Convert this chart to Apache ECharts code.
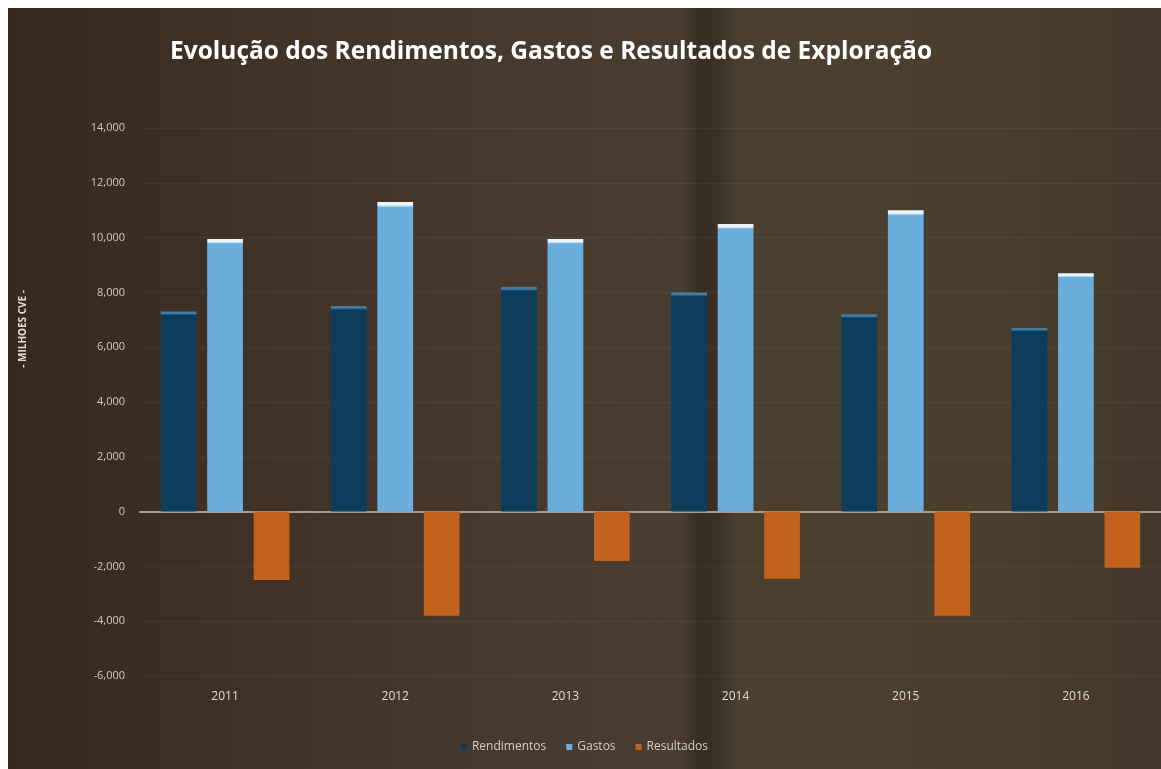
<!DOCTYPE html>
<html>
<head>
<meta charset="utf-8">
<script src="https://cdn.jsdelivr.net/npm/echarts@6/dist/echarts.min.js"></script>
<style>
  html, body { margin: 0; padding: 0; background: #ffffff; overflow: hidden; }
  #chart { position: absolute; left: 8px; top: 8px; width: 1153px; height: 761px; }
</style>
</head>
<body>
<div id="chart"></div>
<script>
  // anos e valores (milhoes CVE)
  const anos = ["2011", "2012", "2013", "2014", "2015", "2016"];
  const rendimentos = [7300, 7500, 8200, 8000, 7200, 6700];
  const gastos = [9950, 11300, 9950, 10500, 11000, 8700];
  const resultados = [-2500, -3800, -1800, -2450, -3800, -2050];

  const labelFont = "'Open Sans', 'DejaVu Sans', sans-serif";

  // barra com "bisel" claro no topo
  const bevel = (top, base) => ({
    type: "linear", x: 0, y: 0, x2: 0, y2: 1,
    colorStops: [
      { offset: 0, color: top },
      { offset: 0.01, color: top },
      { offset: 0.018, color: base },
      { offset: 1, color: base },
    ],
  });

  const myChart = echarts.init(document.getElementById("chart"));
  const option = {
    backgroundColor: {
      type: "linear", x: 0, y: 0, x2: 1, y2: 0,
      colorStops: [
        { offset: 0, color: "#38291f" },
        { offset: 0.2, color: "#403127" },
        { offset: 0.45, color: "#483a2e" },
        { offset: 0.585, color: "#493c30" },
        { offset: 0.6, color: "#372d23" },
        { offset: 0.615, color: "#3a3025" },
        { offset: 0.635, color: "#4b4030" },
        { offset: 0.85, color: "#4a3f2c" },
        { offset: 1, color: "#43372a" },
      ],
    },
    animation: false,
    title: {
      text: "Evolução dos Rendimentos, Gastos e Resultados de Exploração",
      left: 157,
      top: 27,
      textStyle: {
        color: "#ffffff",
        fontFamily: labelFont,
        fontWeight: "bold",
        fontSize: 24.5,
      },
    },
    graphic: [
      {
        type: "text",
        left: 10,
        top: 282,
        rotation: Math.PI / 2,
        style: {
          text: "- MILHOES CVE -",
          fill: "#e6ddd2",
          font: "bold 10px " + labelFont,
        },
      },
    ],
    legend: {
      data: ["Rendimentos", "Gastos", "Resultados"],
      bottom: 11,
      left: "center",
      itemWidth: 6,
      itemHeight: 6,
      itemGap: 20,
      icon: "rect",
      textStyle: { color: "#d6cec4", fontSize: 12, fontFamily: labelFont },
    },
    grid: { left: 132, right: -8, top: 120, bottom: 93 },
    xAxis: [
      {
        type: "category",
        data: anos,
        axisLine: { show: false, onZero: false },
        axisTick: { show: false },
        axisLabel: { color: "#e2dad0", fontSize: 12, margin: 15, fontFamily: labelFont },
      },
      {
        type: "category",
        data: anos,
        position: "bottom",
        axisLine: { show: true, onZero: true, lineStyle: { color: "#a89a8c", width: 2 } },
        axisTick: { show: false },
        axisLabel: { show: false },
      },
    ],
    yAxis: {
      type: "value",
      min: -6000,
      max: 14000,
      interval: 2000,
      axisLine: { show: false },
      axisTick: { show: false },
      splitLine: { lineStyle: { color: "rgba(255,255,255,0.05)" } },
      axisLabel: {
        color: "#d2c9be",
        fontSize: 11,
        margin: 15,
        fontFamily: labelFont,
        formatter: (v) => v.toLocaleString("en-US"),
      },
    },
    series: [
      {
        name: "Rendimentos",
        type: "bar",
        data: rendimentos,
        barWidth: "21%",
        barGap: "30%",
        itemStyle: { color: bevel("#3f7ca6", "#0e3c5b") },
      },
      {
        name: "Gastos",
        type: "bar",
        data: gastos,
        barWidth: "21%",
        itemStyle: { color: bevel("#eaf5fb", "#6aaede") },
      },
      {
        name: "Resultados",
        type: "bar",
        data: resultados,
        barWidth: "21%",
        itemStyle: { color: "#c2621d" },
      },
    ],
  };

  option && myChart.setOption(option);
  window.addEventListener("resize", function () {
    myChart.resize();
  });
</script>
</body>
</html>
